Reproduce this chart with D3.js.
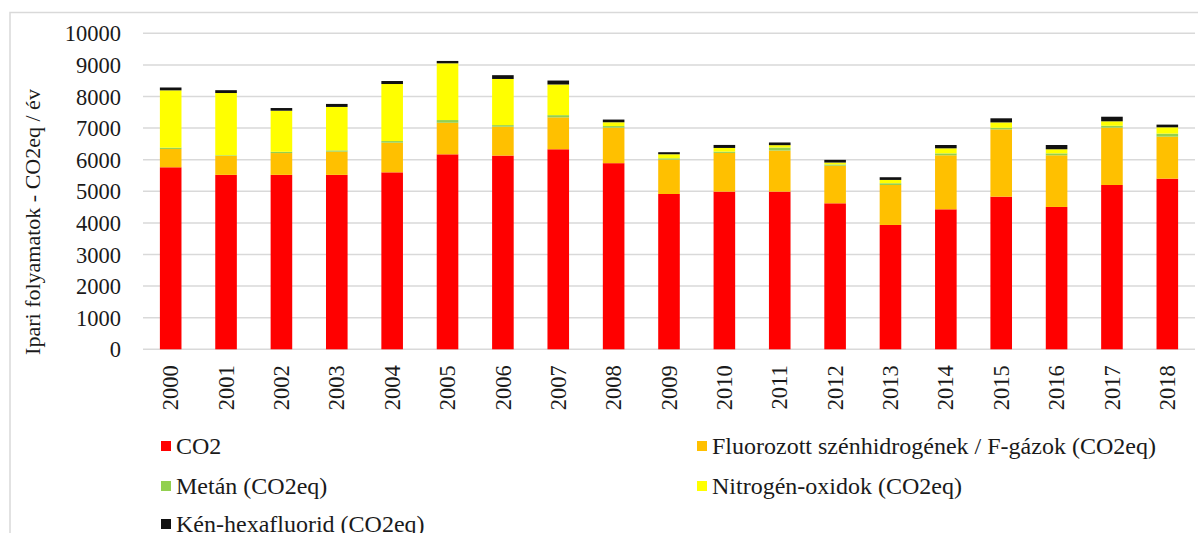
<!DOCTYPE html>
<html>
<head>
<meta charset="utf-8">
<script src="https://cdn.jsdelivr.net/npm/d3@7"></script>
<style>
  html, body { margin: 0; padding: 0; background: #fff; }
  svg { display: block; font-family: "Liberation Serif", "Times New Roman", serif; }
</style>
</head>
<body>
<svg id="chart" width="1198" height="533"></svg>
<script>
// Industrial process emissions by gas, kt CO2eq per year
const years = ["2000","2001","2002","2003","2004","2005","2006","2007","2008","2009",
               "2010","2011","2012","2013","2014","2015","2016","2017","2018"];
const co2     = [5760,5520,5520,5520,5600,6170,6130,6330,5890,4915,4990,4990,4620,3935,4430,4830,4505,5200,5400];
const fgases  = [ 580, 600, 690, 735, 940,1000, 915,1010,1125,1085,1225,1300,1190,1265,1710,2130,1635,1815,1330];
const methane = [  40,  20,  40,  40,  50,  85,  50,  70,  50,  45,  40,  95,  40,  55,  60,  50,  60,  60,  95];
const nox     = [1815,1970,1300,1375,1805,1795,1460, 970, 120, 127, 117,  75,  60, 105, 160, 170, 130, 140, 200];
const sf6     = [  90,  90,  85,  95,  95,  75, 120, 125,  85,  65,  95,  85,  85,  85, 105, 130, 135, 145,  85];
const yTicks  = [0,1000,2000,3000,4000,5000,6000,7000,8000,9000,10000];

const seriesNames = ["CO2", "Fluorozott szénhidrogének / F-gázok (CO2eq)", "Metán (CO2eq)",
                     "Nitrogén-oxidok (CO2eq)", "Kén-hexafluorid (CO2eq)"];
const seriesColors = ["#ff0000", "#ffc000", "#92d050", "#ffff00", "#111111"];
const seriesValues = [co2, fgases, methane, nox, sf6];

const rows = years.map((y, i) => {
  const r = { year: y };
  seriesNames.forEach((n, k) => { r[n] = seriesValues[k][i]; });
  return r;
});

const FONT = "Liberation Serif";
const INK = "#1a1a1a";
const svg = d3.select("#chart");
const plot = { left: 143, right: 1195, top: 33.3, bottom: 349.3 };

// outer chart frame
svg.append("rect")
  .attr("x", 10).attr("y", 12.5)
  .attr("width", 1300).attr("height", 600)
  .attr("fill", "none").attr("stroke", "#d9d9d9").attr("stroke-width", 1.5);

const x = d3.scaleBand().domain(years).range([plot.left, plot.right]).paddingInner(0.61).paddingOuter(0.305);
const y = d3.scaleLinear().domain([0, 10000]).range([plot.bottom, plot.top]);

// gridlines
svg.append("g").selectAll("line").data(yTicks).join("line")
  .attr("x1", plot.left).attr("x2", plot.right)
  .attr("y1", d => y(d)).attr("y2", d => y(d))
  .attr("stroke", "#d9d9d9").attr("stroke-width", 1.5);

// y axis labels
const yAxis = d3.axisLeft(y).tickValues(yTicks).tickSize(0).tickPadding(0).tickFormat(d3.format("d"));
const gy = svg.append("g").attr("transform", `translate(${plot.left - 22},0)`).call(yAxis)
  .attr("font-family", FONT);
gy.select(".domain").remove();
gy.selectAll("text").attr("font-size", 22.5).attr("fill", INK).attr("dy", "0.34em");

// stacked bars
const stack = d3.stack().keys(seriesNames);
const layers = stack(rows);
svg.append("g").selectAll("g").data(layers).join("g")
  .attr("fill", (d, i) => seriesColors[i])
  .selectAll("rect").data(d => d).join("rect")
  .attr("x", d => x(d.data.year))
  .attr("width", x.bandwidth())
  .attr("y", d => y(d[1]))
  .attr("height", d => y(d[0]) - y(d[1]));

// x axis labels (rotated)
const xAxis = d3.axisBottom(x).tickSize(0).tickPadding(0);
const gx = svg.append("g").attr("transform", `translate(0,${plot.bottom})`).call(xAxis)
  .attr("font-family", FONT);
gx.select(".domain").remove();
gx.selectAll("text")
  .attr("font-size", 22.5).attr("fill", INK)
  .attr("text-anchor", "end")
  .attr("transform", "rotate(-90)")
  .attr("x", -16).attr("y", 0).attr("dy", "0.34em");

// y axis title
svg.append("text")
  .attr("transform", "translate(40,222) rotate(-90)")
  .attr("text-anchor", "middle")
  .attr("font-family", FONT)
  .attr("font-size", 22).attr("fill", INK)
  .text("Ipari folyamatok - CO2eq / év");

// legend
const legendPos = [
  { x: 161, y: 446 }, { x: 697, y: 446 },
  { x: 161, y: 486 }, { x: 697, y: 486 },
  { x: 161, y: 524 }
];
const lg = svg.append("g").attr("font-family", FONT)
  .selectAll("g").data(seriesNames).join("g")
  .attr("transform", (d, i) => `translate(${legendPos[i].x},${legendPos[i].y})`);
lg.append("rect").attr("x", 0).attr("y", -5).attr("width", 10).attr("height", 10)
  .attr("fill", (d, i) => seriesColors[i]);
lg.append("text").attr("x", 15).attr("y", 0).attr("dy", "0.34em")
  .attr("font-size", 24).attr("fill", INK).text(d => d);
</script>
</body>
</html>
